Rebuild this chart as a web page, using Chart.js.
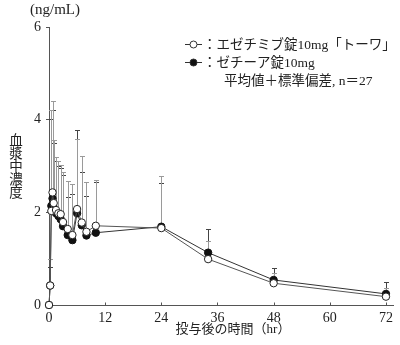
<!DOCTYPE html>
<html>
<head>
<meta charset="utf-8">
<script src="https://cdn.jsdelivr.net/npm/chart.js@4.4.1/dist/chart.umd.min.js"></script>
<style>
html,body{margin:0;padding:0;background:#fff;}
#wrap{width:400px;height:345px;position:relative;}
</style>
</head>
<body>
<div id="wrap"><canvas id="c" width="400" height="345"></canvas></div>
<script>
// ---- data ----
const times = [0, 0.25, 0.5, 0.75, 1, 1.5, 2, 2.5, 3, 4, 5, 6, 7, 8, 10, 24, 34, 48, 72];
const towaMean = [0, 0.42, 2.03, 2.43, 2.20, 2.05, 1.98, 1.96, 1.79, 1.64, 1.51, 2.07, 1.78, 1.58, 1.71, 1.66, 0.99, 0.47, 0.18];
const towaSD   = [0, 0.58, 2.18, 1.98, 1.36, 1.15, 1.12, 1.06, 1.07, 1.04, 1.10, 1.51, 1.44, 1.07, 0.99, 1.13, 0.39, 0.23, 0.18];
const zetiaMean = [0, 0.42, 2.14, 2.30, 2.10, 1.98, 1.92, 1.85, 1.70, 1.51, 1.40, 1.98, 1.72, 1.50, 1.56, 1.69, 1.13, 0.54, 0.24];
const zetiaSD   = [0, 0.40, 1.87, 1.91, 1.40, 1.12, 1.08, 1.10, 1.10, 0.83, 1.00, 1.80, 1.16, 0.85, 1.09, 0.95, 0.50, 0.25, 0.25];
const xTicks = [0, 12, 24, 36, 48, 60, 72];
const yTicks = [0, 2, 4, 6];
const legendLabels = ['：エゼチミブ錠10mg「トーワ」', '：ゼチーア錠10mg'];
const noteText = '平均値＋標準偏差, n＝27';
const yTitle = '血漿中濃度';
const xTitle = '投与後の時間（hr）';
const unitText = '(ng/mL)';

const FONT = "'Liberation Serif','Noto Sans CJK JP',serif";
const TXT = '#222';

function pts(m){ return times.map((t,i)=>({x:t,y:m[i]})); }

const errPlugin = {
  id:'err',
  beforeDatasetsDraw(chart){
    const ctx = chart.ctx, xs = chart.scales.x, ys = chart.scales.y;
    const sets = [[zetiaMean, zetiaSD, '#444'], [towaMean, towaSD, '#9a9a9a']];
    ctx.save();
    ctx.lineWidth = 1;
    sets.forEach(([m, sd, col])=>{
      ctx.strokeStyle = col;
      times.forEach((t,i)=>{
        if(!sd[i]) return;
        const x = Math.round(xs.getPixelForValue(t))+0.5;
        const y0 = ys.getPixelForValue(m[i]);
        const y1 = Math.round(ys.getPixelForValue(m[i]+sd[i]))+0.5;
        ctx.beginPath();
        ctx.moveTo(x, y0); ctx.lineTo(x, y1);
        ctx.moveTo(x-2.5, y1); ctx.lineTo(x+2.5, y1);
        ctx.stroke();
      });
    });
    ctx.restore();
  },
  afterDraw(chart){
    const ctx = chart.ctx, xs = chart.scales.x, ys = chart.scales.y;
    ctx.save();
    ctx.setTransform(1,0,0,1,0,0);
    // inward x ticks
    ctx.strokeStyle = '#555'; ctx.lineWidth = 1;
    const yb = Math.round(ys.getPixelForValue(0))+0.5;
    xTicks.forEach(v=>{
      if(v===0) return;
      const x = Math.round(xs.getPixelForValue(v))+0.5;
      ctx.beginPath(); ctx.moveTo(x, yb); ctx.lineTo(x, yb-3); ctx.stroke();
    });
    ctx.fillStyle = TXT;
    // unit
    ctx.font = '15px ' + FONT;
    ctx.textAlign = 'center'; ctx.textBaseline = 'middle';
    ctx.fillText(unitText, 55, 10);
    // y title vertical
    ctx.font = '13.5px ' + FONT;
    [...yTitle].forEach((ch,i)=>{ ctx.fillText(ch, 16, 141 + i*13.2); });
    // x title
    ctx.font = '13px ' + FONT;
    ctx.fillText(xTitle, 233, 330);
    // legend
    const rows = [[44, '#fff'], [62, '#111']];
    rows.forEach(([y, fill], i)=>{
      ctx.strokeStyle = '#333'; ctx.lineWidth = 1;
      ctx.beginPath(); ctx.moveTo(185, y+0.5); ctx.lineTo(202, y+0.5); ctx.stroke();
      ctx.beginPath(); ctx.arc(193.5, y+0.5, 3.5, 0, Math.PI*2);
      ctx.fillStyle = fill; ctx.fill(); ctx.stroke();
      ctx.fillStyle = TXT;
      ctx.font = '13.5px ' + FONT;
      ctx.textAlign = 'left';
      ctx.fillText(legendLabels[i], 203, y+1);
    });
    ctx.fillText(noteText, 224, 81);
    ctx.restore();
  }
};

new Chart(document.getElementById('c'), {
  type:'line',
  data:{
    datasets:[
      {label:'towa', data:pts(towaMean), borderColor:'#555', borderWidth:1,
       pointRadius:3.7, pointBackgroundColor:'#fff', pointBorderColor:'#222', pointBorderWidth:1,
       tension:0, clip:false},
      {label:'zetia', data:pts(zetiaMean), borderColor:'#333', borderWidth:1,
       pointRadius:3.7, pointBackgroundColor:'#111', pointBorderColor:'#111', pointBorderWidth:1,
       tension:0, clip:false}
    ]
  },
  options:{
    responsive:false, animation:false, devicePixelRatio:1,
    layout:{padding:{top:27, right:7, left:0, bottom:0}},
    plugins:{legend:{display:false}, tooltip:{enabled:false}},
    scales:{
      x:{type:'linear', min:0, max:73.5,
        afterBuildTicks(s){ s.ticks = xTicks.map(v=>({value:v})); },
        afterFit(s){ s.height = 40; },
        grid:{display:true, drawOnChartArea:false, drawTicks:false},
        border:{display:true, color:'#555', width:1},
        ticks:{padding:5, color:TXT, font:{family:FONT, size:14}, maxRotation:0, autoSkip:false}
      },
      y:{type:'linear', min:0, max:6,
        afterBuildTicks(s){ s.ticks = yTicks.map(v=>({value:v})); },
        afterFit(s){ s.width = 49; },
        grid:{display:true, drawOnChartArea:false, drawTicks:true, tickLength:3, color:'#555'},
        border:{display:true, color:'#555', width:1},
        ticks:{padding:5, color:TXT, font:{family:FONT, size:14}}
      }
    }
  },
  plugins:[errPlugin]
});
</script>
</body>
</html>
